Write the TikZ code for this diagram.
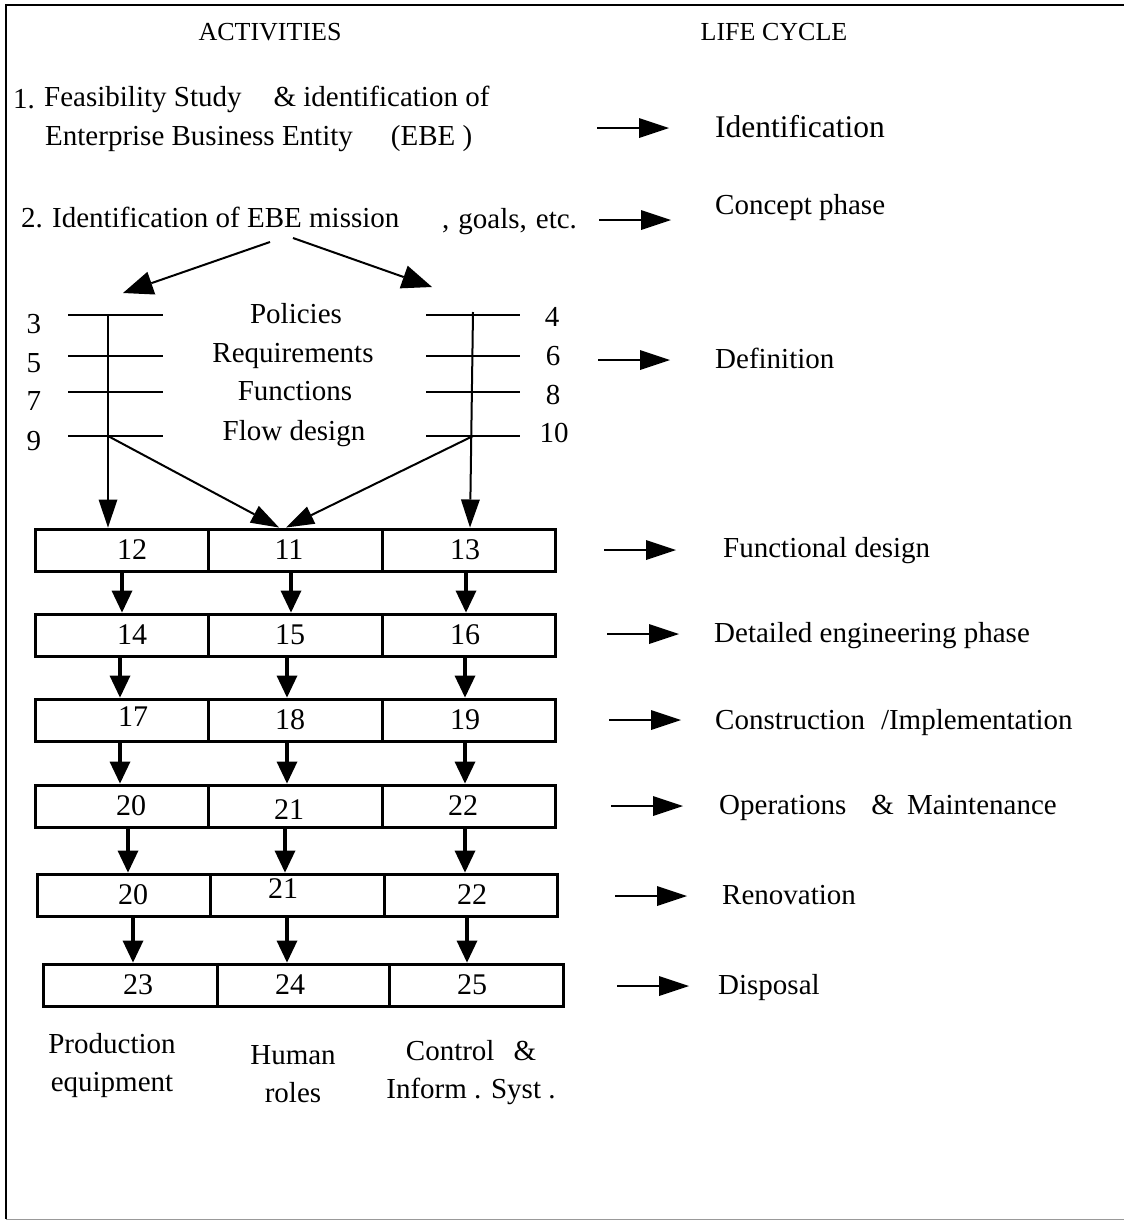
\documentclass[tikz,border=0pt]{standalone}
\usepackage{fontspec}
\setmainfont{Liberation Serif}
\usetikzlibrary{arrows.meta,calc}

\begin{document}
\begin{tikzpicture}[x=1pt,y=-1pt,
  txt/.style={inner sep=0pt, anchor=base west, font=\fontsize{29}{35}\selectfont},
  hdr/.style={inner sep=0pt, anchor=base, font=\fontsize{26}{31}\selectfont},
  numtxt/.style={inner sep=0pt, anchor=base, font=\fontsize{29}{35}\selectfont},
  lbl/.style={inner sep=0pt, align=center, font=\fontsize{29}{38}\selectfont},
  cell/.style={draw, line width=3pt, minimum height=42pt, inner sep=0pt},
  cellnum/.style={inner sep=0pt, font=\fontsize{30}{36}\selectfont},
  bar/.style={line width=1.1pt},
  thinarrow/.style={line width=2pt, -{Triangle[length=28pt,width=19pt,line width=0pt]}},
  splitarrow/.style={line width=2pt, -{Triangle[length=30pt,width=24pt,line width=0pt]}},
  lcarrow/.style={line width=2.5pt, -{Triangle[length=30pt,width=20pt,line width=0pt]}},
  boxarrow/.style={line width=4.5pt, -{Triangle[length=22pt,width=21pt,line width=0pt]}},
]
\useasboundingbox (0,0) rectangle (1126,1221);

% frame: left and top edges, light rule at the bottom
\draw[line width=2.5pt] (6,1219) -- (6,5) -- (1124,5);
\draw[line width=1.5pt, black!40] (6,1219.5) -- (1124,1219.5);

% column headings
\node[hdr] (act) at (270,40) {ACTIVITIES};
\node[hdr] (lcy) at (774,40) {LIFE CYCLE};

% activity 1
\node[txt] (n1) at (13,108) {1.};
\node[txt] (t1a) at (44,106) {Feasibility Study\hspace{32pt}\& identification of};
\node[txt] (t1b) at (45,145) {Enterprise Business Entity\hspace{38pt}(EBE )};

% activity 2
\node[txt] (n2) at (21,227) {2.};
\node[txt] (t2a) at (52,227) {Identification of EBE mission};
\node[txt] (t2b) at (442,228) {,\hspace{9pt}goals,\hspace{9pt}etc.};

% life cycle phases
\node[txt, font=\fontsize{31.5}{38}\selectfont] (ph1) at (715,137) {Identification};
\node[txt] (ph2) at (715,214) {Concept phase};
\node[txt] (ph3) at (715,368) {Definition};
\node[txt] (ph4) at (723,557) {Functional design};
\node[txt] (ph5) at (714,642) {Detailed engineering phase};
\node[txt] (ph6) at (715,729) {Construction\hspace{16pt}/Implementation};
\node[txt] (ph7) at (719,814) {Operations\hspace{25pt}\&\hspace{13pt}Maintenance};
\node[txt] (ph8) at (722,904) {Renovation};
\node[txt] (ph9) at (718,994) {Disposal};

% arrows towards the life cycle phases
\coordinate (a1) at (597,128);
\coordinate (a2) at (599,220);
\coordinate (a3) at (598,360);
\coordinate (a4) at (604,550);
\coordinate (a5) at (607,634);
\coordinate (a6) at (609,720);
\coordinate (a7) at (611,806);
\coordinate (a8) at (615,896);
\coordinate (a9) at (617,986);
\foreach \c in {a1,a2,a3,a4,a5,a6,a7,a8,a9}
  \draw[lcarrow] (\c) -- ++(72,0);

% split of activity 2
\coordinate (s1) at (270,242);
\coordinate (s2) at (293,238);
\coordinate (e1) at (123,293);
\coordinate (e2) at (432,287);
\draw[splitarrow] (s1) -- (e1);
\draw[splitarrow] (s2) -- (e2);

% definition stage
\node[numtxt] (d3) at (34,333) {3};
\node[numtxt] (d5) at (34,372) {5};
\node[numtxt] (d7) at (34,410) {7};
\node[numtxt] (d9) at (34,450) {9};
\node[numtxt] (d4) at (552,326) {4};
\node[numtxt] (d6) at (553,365) {6};
\node[numtxt] (d8) at (553,404) {8};
\node[numtxt] (d10) at (554,442) {10};
\node[numtxt] (pol) at (296,323) {Policies};
\node[numtxt] (req) at (293,362) {Requirements};
\node[numtxt] (fun) at (295,400) {Functions};
\node[numtxt] (flo) at (294,440) {Flow design};

\foreach \y in {315,356,392,436} {
  \draw[bar] (68,\y) -- (163,\y);
  \draw[bar] (426,\y) -- (520,\y);
}

\coordinate (L3) at (108,315);
\coordinate (L9) at (108,436);
\coordinate (R4) at (473,312);
\coordinate (R10) at (473,436);

% rows of boxes
\node[cell, minimum width=173pt, label={[cellnum,xshift=10.5pt]center:12}] (c12) at (121.5,550) {};
\node[cell, minimum width=174pt, label={[cellnum,xshift=-6pt]center:11}]   (c11) at (295,550) {};
\node[cell, minimum width=173pt, label={[cellnum,xshift=-3.5pt]center:13}] (c13) at (468.5,550) {};

\node[cell, minimum width=173pt, label={[cellnum,xshift=10.5pt]center:14}] (c14) at (121.5,635) {};
\node[cell, minimum width=174pt, label={[cellnum,xshift=-5pt]center:15}]   (c15) at (295,635) {};
\node[cell, minimum width=173pt, label={[cellnum,xshift=-3.5pt]center:16}] (c16) at (468.5,635) {};

\node[cell, minimum width=173pt, label={[cellnum,xshift=11.5pt,yshift=3pt]center:17}] (c17) at (121.5,720) {};
\node[cell, minimum width=174pt, label={[cellnum,xshift=-5pt]center:18}]   (c18) at (295,720) {};
\node[cell, minimum width=173pt, label={[cellnum,xshift=-3.5pt]center:19}] (c19) at (468.5,720) {};

\node[cell, minimum width=173pt, label={[cellnum,xshift=9.5pt]center:20}] (c20) at (121.5,806) {};
\node[cell, minimum width=174pt, label={[cellnum,xshift=-6pt,yshift=-4pt]center:21}] (c21) at (295,806) {};
\node[cell, minimum width=173pt, label={[cellnum,xshift=-5.5pt]center:22}] (c22) at (468.5,806) {};

\node[cell, minimum width=173pt, label={[cellnum,xshift=9.5pt]center:20}] (r20) at (123.5,895) {};
\node[cell, minimum width=174pt, label={[cellnum,xshift=-14pt,yshift=6pt]center:21}] (r21) at (297,895) {};
\node[cell, minimum width=173pt, label={[cellnum,xshift=1.5pt]center:22}] (r22) at (470.5,895) {};

\node[cell, minimum width=174pt, label={[cellnum,xshift=8pt]center:23}] (c23) at (130,985) {};
\node[cell, minimum width=172pt, label={[cellnum,xshift=-13pt]center:24}] (c24) at (303,985) {};
\node[cell, minimum width=174pt, label={[cellnum,xshift=-4pt]center:25}] (c25) at (476,985) {};

% definition results flowing into the first row
\draw[thinarrow] (L3) -- (L3 |- c12.north);
\draw[thinarrow] (R4) -- (470,0 |- c13.north);
\draw[thinarrow] (L9) -- (279,0 |- c11.north);
\draw[thinarrow] (R10) -- (286,0 |- c11.north);

% flow between the rows
\foreach \a/\b/\x in {c12/c14/122, c11/c15/291, c13/c16/466,
                      c14/c17/120, c15/c18/287, c16/c19/465,
                      c17/c20/120, c18/c21/287, c19/c22/465,
                      c20/r20/128, c21/r21/285, c22/r22/465,
                      r20/c23/133, r21/c24/287, r22/c25/467}
  \draw[boxarrow] (\x,0 |- \a.south) -- (\x,0 |- \b.north);

% column captions
\node[lbl] (cap1) at (112,1066) {Production\\equipment};
\node[lbl] (cap2) at (293,1074) {Human\\roles};
\node[lbl] (cap3) at (471,1073) {Control\hspace{19pt}\&\\Inform . Syst .};

\end{tikzpicture}
\end{document}
